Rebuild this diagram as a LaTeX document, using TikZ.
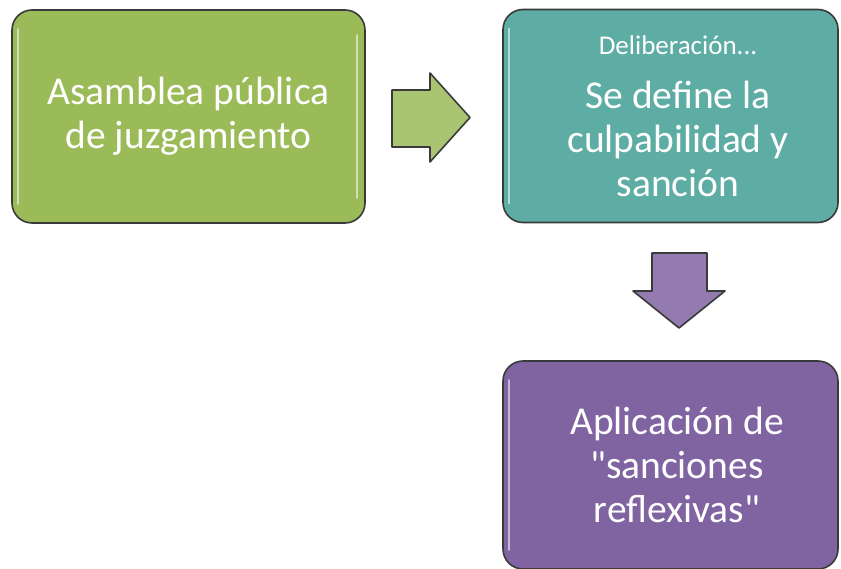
\documentclass[tikz,border=0pt]{standalone}
\usepackage{fontspec}
\setmainfont{Carlito}
\usetikzlibrary{positioning, calc}

\definecolor{verde}{HTML}{9BBB59}
\definecolor{turquesa}{HTML}{5EADA5}
\definecolor{morado}{HTML}{8064A2}
\definecolor{borde}{HTML}{3A3A3A}

\begin{document}
\begin{tikzpicture}[x=1pt,y=-1pt,
  caja/.style={draw=borde, line width=1.6pt, rounded corners=20pt, minimum width=353pt, minimum height=213pt, text=white, align=center, font=\fontsize{39.5}{44}\selectfont},
  texto/.style={text=white, align=center, font=\fontsize{39.5}{44}\selectfont},
  flecha/.style={draw=borde, line width=1.6pt, line join=round},
  brillo/.style={white, opacity=0.55, line width=2pt, line cap=round}]
\useasboundingbox (0,0) rectangle (841,569);

% cajas
\node[caja, fill=verde] (Asam) at (188.5,116.5) {Asamblea pública\\de juzgamiento};
\node[caja, fill=turquesa, minimum width=335pt] (Delib) at (670.5,116) {};
\node[font=\fontsize{27}{30}\selectfont, text=white] (Tit) at (678,45) {Deliberación...};
\node[texto] (Def) at (678,139) {Se define la\\culpabilidad y\\sanción};
\node[caja, fill=morado, minimum width=335pt, minimum height=208pt] (Apli) at (670.5,465) {};
\node[texto] (Sanc) at (677,465) {Aplicación de\\\textquotedbl sanciones\\reflexivas\textquotedbl};

% brillos
\draw[brillo] ($(Asam.north west)+(7,20)$) -- ($(Asam.south west)+(7,-20)$);
\draw[brillo] ($(Asam.north east)+(-9,26)$) -- ($(Asam.south east)+(-9,-26)$);
\draw[brillo] ($(Delib.north west)+(7,20)$) -- ($(Delib.south west)+(7,-20)$);
\draw[brillo] ($(Apli.north west)+(7,20)$) -- ($(Apli.south west)+(7,-20)$);

% flechas
\draw[flecha, fill=verde!85!white] (392,90) -- (430,90) -- (430,73) -- (470,117.5) -- (430,162) -- (430,147) -- (392,147) -- cycle;
\draw[flecha, fill=morado!85!white] (652,253) -- (707,253) -- (707,291) -- (725,291) -- (679,328) -- (633,291) -- (652,291) -- cycle;
\end{tikzpicture}
\end{document}
